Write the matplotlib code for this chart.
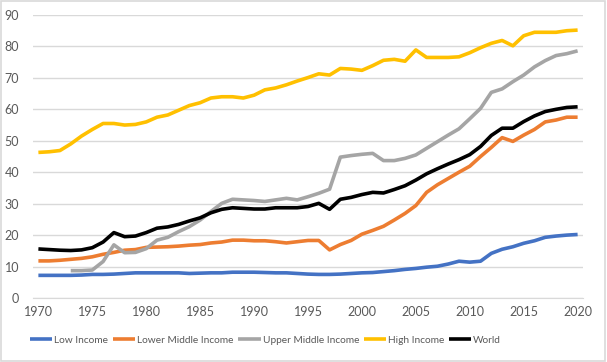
import matplotlib
matplotlib.use("Agg")
import matplotlib.pyplot as plt

years = list(range(1970, 2021))

low_income = [7.2, 7.2, 7.2, 7.2, 7.3, 7.5, 7.5, 7.6, 7.8, 8.0,
              8.0, 8.0, 8.0, 8.0, 7.8, 7.9, 8.0, 8.0, 8.2, 8.2,
              8.2, 8.1, 8.0, 8.0, 7.8, 7.6, 7.5, 7.5, 7.6, 7.8,
              8.0, 8.1, 8.4, 8.7, 9.1, 9.4, 9.8, 10.1, 10.8, 11.7,
              11.4, 11.7, 14.2, 15.5, 16.3, 17.4, 18.2, 19.3, 19.7, 20.0,
              20.2]

lower_middle = [11.8, 11.8, 12.0, 12.3, 12.6, 13.1, 13.9, 14.5, 15.2, 15.4,
                16.1, 16.2, 16.3, 16.5, 16.8, 17.0, 17.5, 17.8, 18.4, 18.4,
                18.2, 18.2, 17.9, 17.5, 17.9, 18.3, 18.3, 15.3, 17.0, 18.3,
                20.3, 21.5, 22.8, 24.8, 26.9, 29.4, 33.6, 36.0, 38.0, 40.0,
                41.9, 45.0, 47.9, 51.0, 49.8, 51.8, 53.6, 56.0, 56.6, 57.5,
                57.5]

upper_middle = [None, None, None, 8.7, 8.7, 8.9, 11.6, 16.9, 14.4, 14.5,
                15.7, 18.4, 19.3, 21.1, 22.7, 24.8, 27.5, 30.1, 31.4, 31.2,
                31.0, 30.7, 31.2, 31.7, 31.2, 32.2, 33.3, 34.6, 44.8, 45.3,
                45.7, 46.0, 43.7, 43.7, 44.4, 45.5, 47.6, 49.7, 51.8, 53.8,
                57.0, 60.3, 65.4, 66.5, 68.8, 70.9, 73.5, 75.5, 77.1, 77.7,
                78.6]

high_income = [46.3, 46.5, 46.9, 49.0, 51.5, 53.6, 55.5, 55.5, 55.0, 55.2,
               56.0, 57.5, 58.2, 59.7, 61.2, 62.1, 63.6, 64.0, 64.0, 63.6,
               64.5, 66.2, 66.8, 67.8, 69.0, 70.1, 71.3, 70.9, 73.0, 72.8,
               72.4, 73.9, 75.6, 75.9, 75.3, 78.9, 76.5, 76.5, 76.5, 76.7,
               78.0, 79.6, 81.0, 81.9, 80.2, 83.4, 84.5, 84.5, 84.5, 85.0,
               85.2]

world = [15.6, 15.4, 15.2, 15.1, 15.3, 16.0, 17.8, 20.8, 19.5, 19.7,
         20.8, 22.2, 22.6, 23.4, 24.5, 25.5, 27.1, 28.2, 28.7, 28.5,
         28.3, 28.3, 28.7, 28.7, 28.7, 29.1, 30.1, 28.2, 31.4, 32.0,
         32.9, 33.6, 33.4, 34.5, 35.7, 37.5, 39.5, 41.1, 42.6, 44.0,
         45.6, 48.2, 51.7, 54.0, 54.0, 56.1, 57.9, 59.3, 60.0, 60.6,
         60.8]

series_names = ["Low Income", "Lower Middle Income", "Upper Middle Income",
                "High Income", "World"]
colors = ["#4472C4", "#ED7D31", "#A5A5A5", "#FFC000", "#000000"]

plt.rcParams['font.family'] = ['Lato', 'DejaVu Sans']

fig = plt.figure(figsize=(6.07, 3.62), dpi=100)
ax = fig.add_axes([33/607, (362-298)/362, (583-33)/607, (298-15)/362])

data = [low_income, lower_middle, upper_middle, high_income, world]
for name, vals, c in zip(series_names, data, colors):
    xs = [y for y, v in zip(years, vals) if v is not None]
    ys = [v for v in vals if v is not None]
    ax.plot(xs, ys, color=c, lw=2.6, label=name, solid_joinstyle='round',
            solid_capstyle='butt')

ax.set_xlim(1969.5, 2020.5)
ax.set_ylim(0, 90)
ax.set_yticks(range(0, 91, 10))
ax.set_xticks(range(1970, 2021, 5))
ax.grid(axis='y', color='#D9D9D9', lw=1)
ax.set_axisbelow(True)
for s in ['top', 'right', 'left']:
    ax.spines[s].set_visible(False)
ax.spines['bottom'].set_color('#D9D9D9')
ax.tick_params(axis='both', length=0, colors='#595959', labelsize=9)
ax.tick_params(axis='y', pad=10)
ax.tick_params(axis='x', pad=6)

leg = fig.legend(loc='center left', bbox_to_anchor=(30/607, 1 - 340/362), ncol=5,
                 frameon=False, fontsize=7.3, handlelength=2.2,
                 handletextpad=0.2, columnspacing=0.45, labelcolor='#595959',
                 borderaxespad=0, borderpad=0)

# chart border
fig.patches.append(plt.Rectangle((0.002, 0.003), 0.995, 0.993,
                                 transform=fig.transFigure, fill=False,
                                 edgecolor='#D9D9D9', lw=1.2))

fig.savefig("out.png", dpi=100)
